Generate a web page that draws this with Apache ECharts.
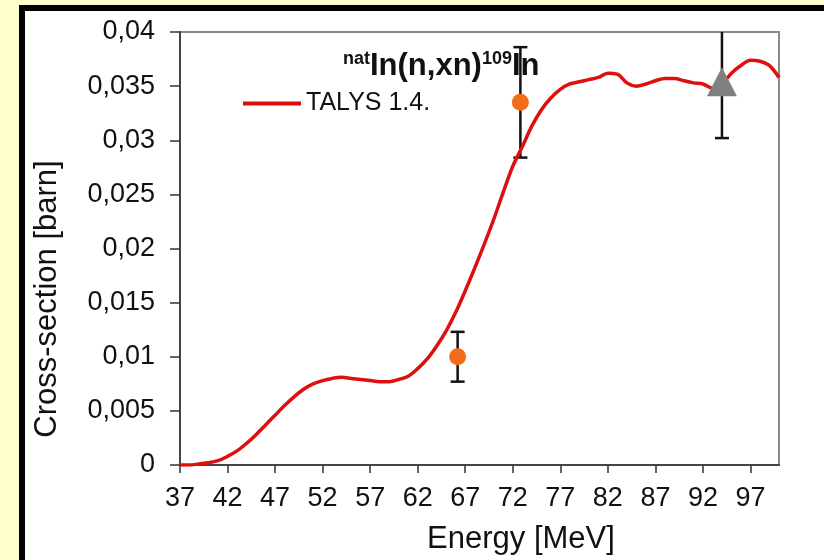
<!DOCTYPE html>
<html>
<head>
<meta charset="utf-8">
<script src="https://cdn.jsdelivr.net/npm/echarts@6/dist/echarts.min.js"></script>
<style>
  html, body { margin: 0; padding: 0; background: #FFFFCC; }
  #chart { width: 824px; height: 560px; }
</style>
</head>
<body>
<div id="chart"></div>
<script>
// TALYS 1.4 excitation function for natIn(n,xn)109In
const energy = [37, 38, 39, 40, 41, 42, 43, 44, 45, 46, 47, 48, 49, 50, 51, 52, 53, 54, 55, 56,
  57, 58, 59, 60, 61, 62, 63, 64, 65, 66, 67, 68, 69, 70, 71, 72, 73, 74, 75, 76, 77, 78,
  79, 80, 81, 82, 83, 84, 85, 86, 87, 88, 89, 90, 91, 92, 93, 94, 95, 96, 97, 98, 99, 100];
const talys = [0.0000, 0.0000, 0.0001, 0.0002, 0.0004, 0.0008, 0.0013, 0.0020, 0.0028, 0.0037,
  0.0046, 0.0055, 0.0063, 0.0070, 0.0075, 0.0078, 0.0080, 0.0081, 0.0080, 0.0079,
  0.0078, 0.0077, 0.0077, 0.0079, 0.0082, 0.0089, 0.0098, 0.0110, 0.0124, 0.0141,
  0.0161, 0.0182, 0.0204, 0.0227, 0.0252, 0.0276, 0.0294, 0.0313, 0.0328, 0.0339,
  0.0347, 0.0352, 0.0354, 0.0356, 0.0358, 0.0362, 0.0361, 0.0353, 0.0350, 0.0352,
  0.0355, 0.0357, 0.0357, 0.0355, 0.0353, 0.0352, 0.0348, 0.0352, 0.0362, 0.0369,
  0.0374, 0.0373, 0.0369, 0.0358];

// measured points (circles) with uncertainties
const circleE = [66.2, 72.8];
const circleVal = [0.0100, 0.0335];
const circleErr = [0.0023, 0.0051];

// measured point (triangle) with uncertainty
const triE = [94.0];
const triVal = [0.0354];
const triErr = [0.0052];

const xTicks = [37, 42, 47, 52, 57, 62, 67, 72, 77, 82, 87, 92, 97];

const FONT = '"Liberation Sans", Arial, sans-serif';

const curve = energy.map((e, i) => [e, talys[i]]);
const circles = circleE.map((e, i) => [e, circleVal[i]]);
const triangles = triE.map((e, i) => [e, triVal[i]]);
const errorBars = circleE.map((e, i) => [e, circleVal[i] - circleErr[i], circleVal[i] + circleErr[i]])
  .concat(triE.map((e, i) => [e, triVal[i] - triErr[i], triVal[i] + triErr[i]]));

const chart = echarts.init(document.getElementById('chart'), null, { renderer: 'canvas' });

chart.setOption({
  backgroundColor: '#FFFFCC',
  animation: false,
  textStyle: { fontFamily: FONT },
  title: {
    left: 338,
    top: 43,
    text: '{sup|nat}{main|In(n,xn)}{sup|109}{main|In}',
    textStyle: {
      rich: {
        main: { fontFamily: FONT, fontSize: 31, fontWeight: 'bold', color: '#111', lineHeight: 34, verticalAlign: 'bottom' },
        sup: { fontFamily: FONT, fontSize: 18, fontWeight: 'bold', color: '#111', lineHeight: 34, verticalAlign: 'top', padding: [2, 0, 0, 0] }
      }
    }
  },
  legend: {
    left: 238,
    top: 86,
    itemWidth: 58,
    itemHeight: 4,
    data: [{ name: 'TALYS 1.4.', icon: 'rect' }],
    textStyle: { fontFamily: FONT, fontSize: 25, color: '#111' }
  },
  graphic: [
    {
      type: 'rect',
      z: -10,
      silent: true,
      shape: { x: 22, y: 8, width: 1000, height: 1000 },
      style: { fill: '#ffffff', stroke: '#000000', lineWidth: 6 }
    },
    {
      type: 'text',
      x: 47, y: 299,
      rotation: Math.PI / 2,
      style: {
        text: 'Cross-section [barn]',
        fontFamily: FONT, fontSize: 31, fill: '#111',
        align: 'center', verticalAlign: 'middle'
      }
    },
    {
      type: 'text',
      x: 521, y: 539,
      style: {
        text: 'Energy [MeV]',
        fontFamily: FONT, fontSize: 31, fill: '#111',
        align: 'center', verticalAlign: 'middle'
      }
    }
  ],
  grid: {
    left: 180, top: 32, right: 45, bottom: 95,
    show: true,
    backgroundColor: '#ffffff',
    borderColor: '#8a8a8a',
    borderWidth: 2
  },
  xAxis: {
    type: 'value',
    min: 37,
    max: 100,
    interval: 5,
    axisLine: { show: true, onZero: false, lineStyle: { color: '#444', width: 2 } },
    axisTick: { show: true, length: 8, customValues: xTicks, lineStyle: { color: '#333', width: 1.5 } },
    axisLabel: { customValues: xTicks, margin: 20, fontSize: 27, color: '#111', fontFamily: FONT },
    splitLine: { show: false }
  },
  yAxis: {
    type: 'value',
    min: 0,
    max: 0.04,
    interval: 0.005,
    axisLine: { show: true, lineStyle: { color: '#444', width: 2 } },
    axisTick: { show: true, length: 10, lineStyle: { color: '#333', width: 1.5 } },
    axisLabel: {
      margin: 25, fontSize: 27, color: '#111', fontFamily: FONT,
      formatter: v => String(+v.toFixed(3)).replace('.', ',')
    },
    splitLine: { show: false }
  },
  series: [
    {
      name: 'error bars',
      type: 'custom',
      clip: true,
      z: 2,
      data: errorBars,
      renderItem: (params, api) => {
        const x = api.value(0);
        const lo = api.coord([x, api.value(1)]);
        const hi = api.coord([x, api.value(2)]);
        const cap = 7;
        const style = { stroke: '#111', lineWidth: 2.5 };
        return {
          type: 'group',
          children: [
            { type: 'line', shape: { x1: lo[0], y1: lo[1], x2: hi[0], y2: hi[1] }, style },
            { type: 'line', shape: { x1: lo[0] - cap, y1: lo[1], x2: lo[0] + cap, y2: lo[1] }, style },
            { type: 'line', shape: { x1: hi[0] - cap, y1: hi[1], x2: hi[0] + cap, y2: hi[1] }, style }
          ]
        };
      }
    },
    {
      name: 'TALYS 1.4.',
      type: 'line',
      z: 3,
      data: curve,
      smooth: 0.35,
      symbol: 'none',
      lineStyle: { color: '#dd1010', width: 3.5 },
      itemStyle: { color: '#dd1010' }
    },
    {
      name: 'circles',
      type: 'scatter',
      z: 4,
      data: circles,
      symbol: 'circle',
      symbolSize: 17,
      itemStyle: { color: '#f26d1a', opacity: 1 }
    },
    {
      name: 'triangles',
      type: 'scatter',
      z: 4,
      data: triangles,
      symbol: 'triangle',
      symbolSize: [30, 29],
      itemStyle: { color: '#808080', opacity: 1 }
    }
  ]
});
</script>
</body>
</html>
